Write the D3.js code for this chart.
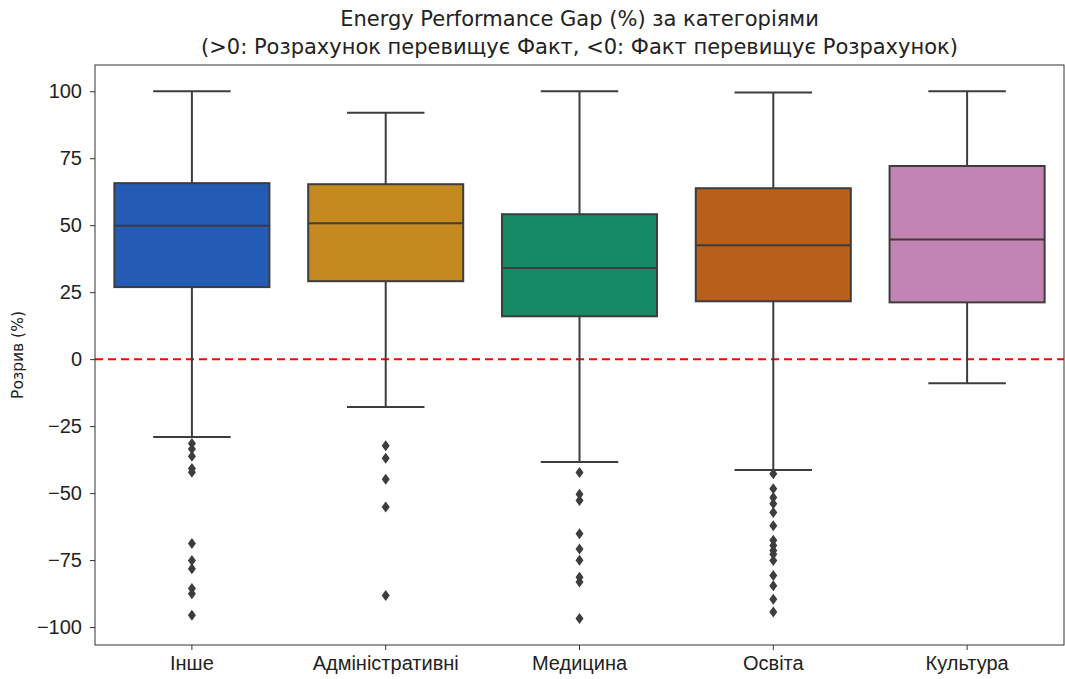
<!DOCTYPE html>
<html>
<head>
<meta charset="utf-8">
<script src="https://cdn.jsdelivr.net/npm/d3@7"></script>
<style>
  body { margin: 0; background: #fff; }
  svg { font-family: "DejaVu Sans", sans-serif; }
</style>
</head>
<body>
<svg id="chart" width="1065" height="679"></svg>
<script>
// Categories and box statistics
const categories = ['Інше', 'Адміністративні', 'Медицина', 'Освіта', 'Культура'];
const colors = ['#235bb5', '#c4891f', '#168a65', '#b85f1c', '#c284b3'];
const whiskerHigh = [100, 92, 100, 99.5, 100];
const q3 = [65.7, 65.3, 54.1, 63.8, 72.1];
const medians = [49.8, 50.7, 34.0, 42.5, 44.7];
const q1 = [26.9, 29.1, 16.0, 21.6, 21.2];
const whiskerLow = [-29.1, -17.9, -38.4, -41.4, -9.0];
const outliers = [
  [-31.5, -33.5, -36.2, -40.8, -42.2, -68.8, -75.2, -78.2, -85.6, -87.6, -95.6],
  [-32.3, -37.0, -44.8, -55.2, -88.2],
  [-42.3, -50.4, -52.8, -65.2, -70.9, -75.1, -81.4, -83.2, -96.8],
  [-42.8, -48.4, -51.6, -54.0, -57.2, -62.2, -67.6, -69.6, -71.4, -72.8, -75.2, -80.8, -84.6, -89.6, -94.4],
  []
];
const yTicks = [-100, -75, -50, -25, 0, 25, 50, 75, 100];

const svg = d3.select('#chart');
const margin = { top: 65, right: 1, bottom: 34, left: 95 };
const width = 1065 - margin.left - margin.right;
const height = 679 - margin.top - margin.bottom;

const g = svg.append('g')
  .attr('transform', `translate(${margin.left},${margin.top})`);

const x = d3.scaleBand()
  .domain(categories)
  .range([0, width])
  .paddingInner(0.2)
  .paddingOuter(0.1);

const y = d3.scaleLinear()
  .domain([-106.7, 109.8])
  .range([height, 0]);

// Axes
const xAxis = g.append('g')
  .attr('transform', `translate(0,${height})`)
  .call(d3.axisBottom(x).tickSize(5).tickPadding(6));

const yAxis = g.append('g')
  .call(d3.axisLeft(y).tickValues(yTicks).tickSize(5).tickPadding(8)
    .tickFormat(d => d < 0 ? '\u2212' + Math.abs(d) : d));

[xAxis, yAxis].forEach(a => {
  a.select('.domain').remove();
  a.selectAll('.tick line').attr('stroke', '#333').attr('stroke-width', 1);
  a.selectAll('.tick text').attr('fill', '#222').style('font-size', '20px');
});

// Reference line at zero
g.append('line')
  .attr('x1', 0).attr('x2', width)
  .attr('y1', y(0)).attr('y2', y(0))
  .attr('stroke', '#ff0000')
  .attr('stroke-width', 2)
  .attr('stroke-dasharray', '8,5');

const lineColor = '#3d3d3d';
const bw = x.bandwidth();

categories.forEach((c, i) => {
  const cx = x(c) + bw / 2;
  const bg = g.append('g');

  // whiskers
  bg.append('line')
    .attr('x1', cx).attr('x2', cx)
    .attr('y1', y(q3[i])).attr('y2', y(whiskerHigh[i]))
    .attr('stroke', lineColor).attr('stroke-width', 2);
  bg.append('line')
    .attr('x1', cx).attr('x2', cx)
    .attr('y1', y(q1[i])).attr('y2', y(whiskerLow[i]))
    .attr('stroke', lineColor).attr('stroke-width', 2);
  [whiskerHigh[i], whiskerLow[i]].forEach(v => {
    bg.append('line')
      .attr('x1', cx - bw / 4).attr('x2', cx + bw / 4)
      .attr('y1', y(v)).attr('y2', y(v))
      .attr('stroke', lineColor).attr('stroke-width', 2);
  });

  // box
  bg.append('rect')
    .attr('x', x(c))
    .attr('y', y(q3[i]))
    .attr('width', bw)
    .attr('height', y(q1[i]) - y(q3[i]))
    .attr('fill', colors[i])
    .attr('stroke', lineColor)
    .attr('stroke-width', 2);

  // median
  bg.append('line')
    .attr('x1', x(c)).attr('x2', x(c) + bw)
    .attr('y1', y(medians[i])).attr('y2', y(medians[i]))
    .attr('stroke', lineColor).attr('stroke-width', 2);

  // outliers (thin diamonds)
  bg.selectAll('.outlier')
    .data(outliers[i])
    .enter()
    .append('path')
    .attr('class', 'outlier')
    .attr('d', d => {
      const py = y(d);
      return `M${cx},${py - 5.5}L${cx + 4},${py}L${cx},${py + 5.5}L${cx - 4},${py}Z`;
    })
    .attr('fill', lineColor);
});

// Frame
g.append('rect')
  .attr('width', width)
  .attr('height', height)
  .attr('fill', 'none')
  .attr('stroke', '#333')
  .attr('stroke-width', 1);

// Axis label
svg.append('text')
  .attr('transform', `translate(23,${margin.top + height / 2}) rotate(-90)`)
  .attr('text-anchor', 'middle')
  .style('font-size', '15.5px')
  .attr('fill', '#222')
  .text('Розрив (%)');

// Title
const title = svg.append('text')
  .attr('text-anchor', 'middle')
  .attr('fill', '#222')
  .style('font-size', '21px');
title.append('tspan')
  .attr('x', margin.left + width / 2).attr('y', 26)
  .text('Energy Performance Gap (%) за категоріями');
title.append('tspan')
  .attr('x', margin.left + width / 2).attr('y', 54)
  .text('(>0: Розрахунок перевищує Факт, <0: Факт перевищує Розрахунок)');
</script>
</body>
</html>
